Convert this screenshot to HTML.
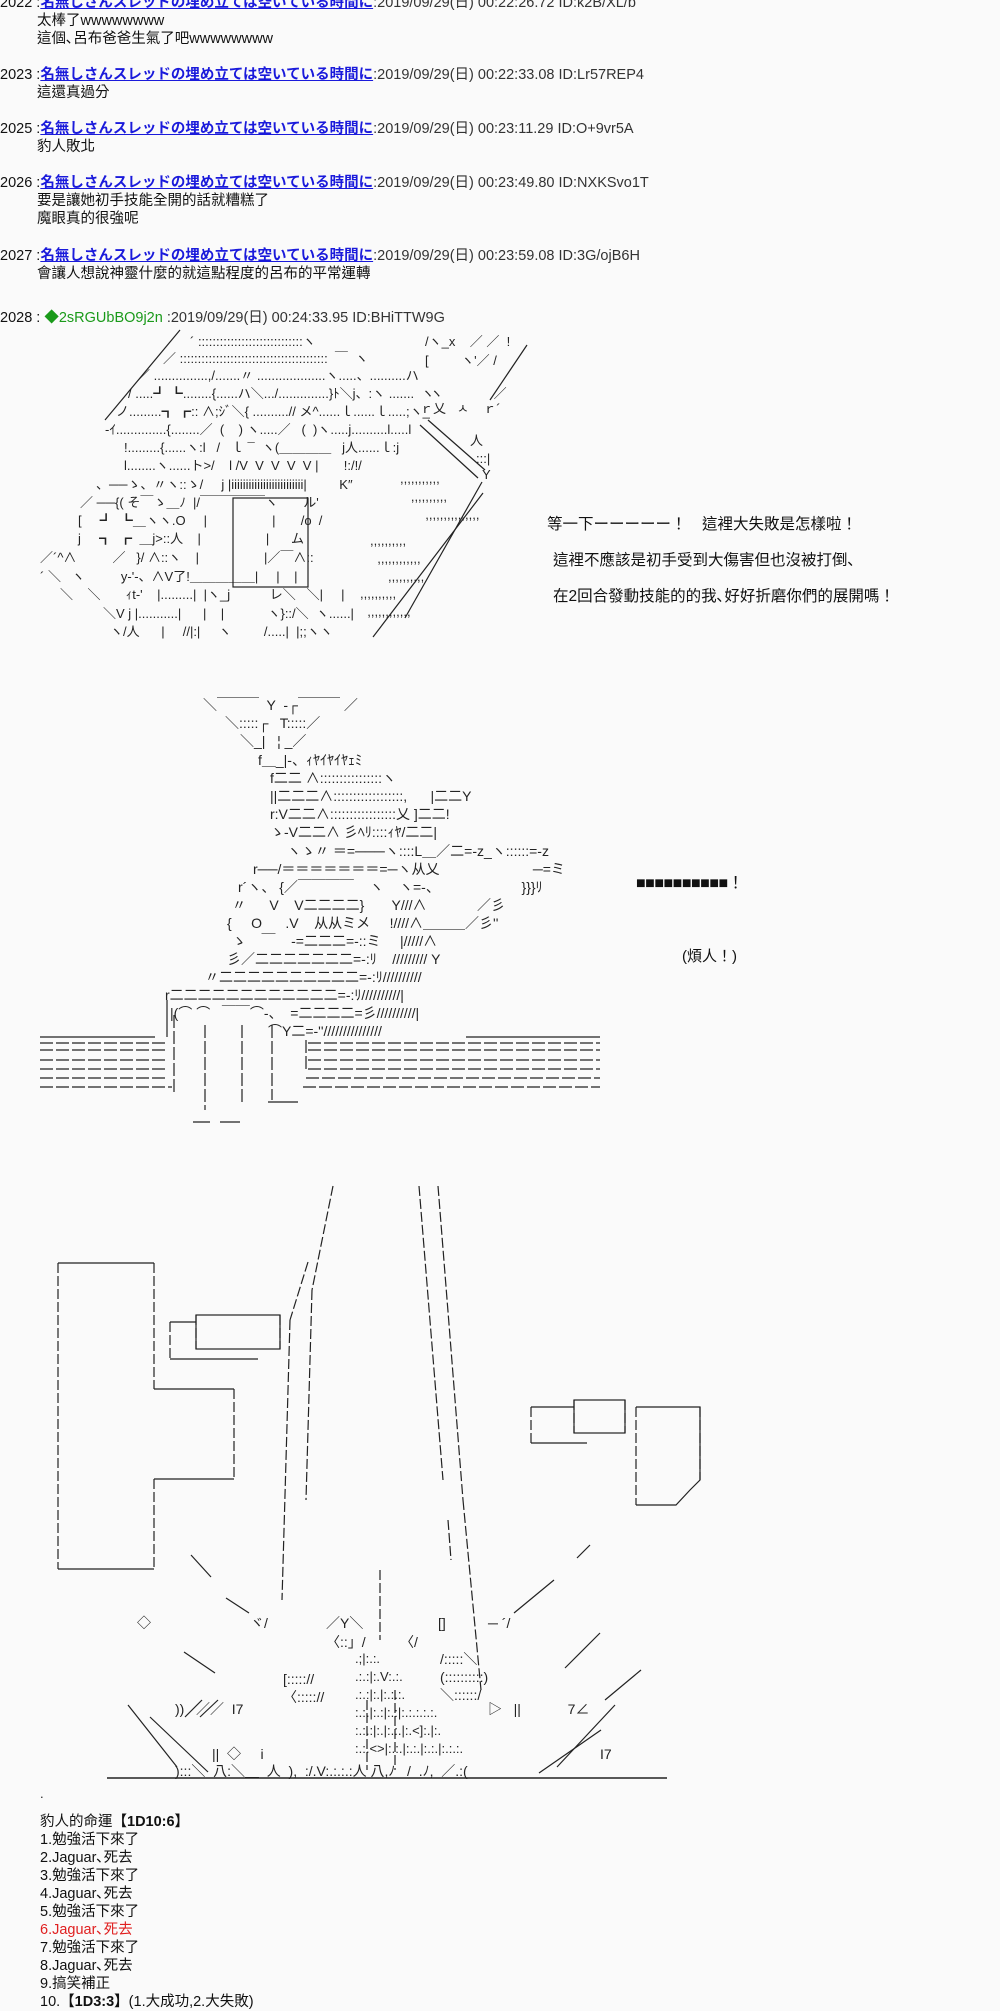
<!DOCTYPE html>
<html><head><meta charset="utf-8">
<style>
body{margin:0;width:1000px;height:2000px;background:#fafafa;position:relative;overflow:hidden;font-family:"Liberation Sans","Noto Sans CJK TC",sans-serif;color:#111}
.t{position:absolute;white-space:pre;font-size:14.5px;line-height:18px}
.h a{color:#1a1adb;text-decoration:underline;font-weight:bold}
.g{color:#333}
.a{position:absolute;white-space:pre;font-family:"Liberation Sans","Noto Sans CJK JP",sans-serif;font-size:13px;line-height:18px;color:#222}
.b{font-size:14px}
svg{position:absolute;left:0;top:0}
</style></head><body>
<div class="t h" style="left:0;top:-6px">2022 :<a>名無しさんスレッドの埋め立ては空いている時間に</a><span class="g">:2019/09/29(日) 00:22:26.72 ID:k2B/XL/b</span></div>
<div class="t" style="left:37px;top:12px">太棒了wwwwwwww
這個､呂布爸爸生氣了吧wwwwwwww</div>
<div class="t h" style="left:0;top:66px">2023 :<a>名無しさんスレッドの埋め立ては空いている時間に</a><span class="g">:2019/09/29(日) 00:22:33.08 ID:Lr57REP4</span></div>
<div class="t" style="left:37px;top:84px">這還真過分</div>
<div class="t h" style="left:0;top:120px">2025 :<a>名無しさんスレッドの埋め立ては空いている時間に</a><span class="g">:2019/09/29(日) 00:23:11.29 ID:O+9vr5A</span></div>
<div class="t" style="left:37px;top:138px">豹人敗北</div>
<div class="t h" style="left:0;top:174px">2026 :<a>名無しさんスレッドの埋め立ては空いている時間に</a><span class="g">:2019/09/29(日) 00:23:49.80 ID:NXKSvo1T</span></div>
<div class="t" style="left:37px;top:192px">要是讓她初手技能全開的話就糟糕了
魔眼真的很強呢</div>
<div class="t h" style="left:0;top:247px">2027 :<a>名無しさんスレッドの埋め立ては空いている時間に</a><span class="g">:2019/09/29(日) 00:23:59.08 ID:3G/ojB6H</span></div>
<div class="t" style="left:37px;top:265px">會讓人想說神靈什麼的就這點程度的呂布的平常運轉</div>
<div class="t" style="left:0;top:309px">2028 : <span style="color:#1a9a1a">◆2sRGUbBO9j2n</span> <span class="g">:2019/09/29(日) 00:24:33.95 ID:BHiTTW9G</span></div>

<!-- art 1 -->
<div class="a" style="left:190px;top:333px">´ :::::::::::::::::::::::::::::ヽ</div>
<div class="a" style="left:163px;top:350px">／ :::::::::::::::::::::::::::::::::::::::::  ￣  ヽ</div>
<div class="a" style="left:137px;top:367px">／ ...............,/.......〃 ...................ヽ.....、..........ハ</div>
<div class="a" style="left:128px;top:385px">/ .....┛ ┗........{......ハ＼.../..............}ﾄ＼j、:ヽ .......  ヽ</div>
<div class="a" style="left:116px;top:403px">ノ.........┓ ┏:: ∧;ｼﾞ＼{ ..........// メ^......ｌ......ｌ.....;ヽ_</div>
<div class="a" style="left:105px;top:421px">‐ｲ..............{........／  (    ) ヽ.....／   (  )ヽ.....j..........l.....l</div>
<div class="a" style="left:124px;top:439px">!.........{......ヽ:l   /   ｌ ¯  ヽ(＿＿＿＿   j人......ｌ:j</div>
<div class="a" style="left:124px;top:457px">l........ヽ......ト>/    l /V  V  V  V  V |       !:/!/</div>
<div class="a" style="left:96px;top:476px">、──ゝ、〃ヽ::ゝ/     j |iiiiiiiiiiiiiiiiiiiiiiiii|         K″</div>
<div class="a" style="left:80px;top:494px">／ ──{( そ￣ゝ＿ﾉ  |/￣￣￣￣￣ヽ       ル'</div>
<div class="a" style="left:78px;top:512px">[     ┛  ┗＿ヽヽ.O     |                  |       /o  /</div>
<div class="a" style="left:78px;top:530px">j     ┓  ┏  ＿j>::人    |                  |      ム</div>
<div class="a" style="left:40px;top:549px">／´^∧          ／   }/ ∧::ヽ    |                  |／￣∧::</div>
<div class="a" style="left:40px;top:568px">´ ＼   ヽ          y‐'‐、∧V了!＿＿＿＿＿|     |    |</div>
<div class="a" style="left:60px;top:586px">＼    ＼       ｨt‐'    |.........|  |ヽ_j           レ＼   ＼|     |</div>
<div class="a" style="left:103px;top:605px">＼V j |...........|      |    |            ヽ}::/＼  ヽ......|</div>
<div class="a" style="left:110px;top:623px">ヽ/人      |     //|:|     ヽ         /.....|  |;;ヽヽ</div>
<div class="a" style="left:425px;top:333px">/ヽ_x    ／ ／  !</div>
<div class="a" style="left:425px;top:352px">[         ヽ'／ /</div>
<div class="a" style="left:430px;top:385px">ヽ              ／</div>
<div class="a" style="left:420px;top:400px">ｒ乂   ㅅ    ｒ´</div>
<div class="a" style="left:470px;top:432px">人</div>
<div class="a" style="left:476px;top:450px">:::|</div>
<div class="a" style="left:482px;top:466px">Y</div>
<div class="a" style="left:400px;top:470px">,,,,,,,,,,,
   ,,,,,,,,,,
       ,,,,,,,,,,,,,,,</div>
<div class="a" style="left:370px;top:532px">,,,,,,,,,,
  ,,,,,,,,,,,,
     ,,,,,,,,,,</div>
<div class="a" style="left:360px;top:585px">,,,,,,,,,,
  ,,,,,,,,,,,,</div>

<div class="t" style="left:547px;top:516px;font-size:15.5px">等一下ーーーーー！　這裡大失敗是怎樣啦！</div>
<div class="t" style="left:553px;top:552px;font-size:15.5px">這裡不應該是初手受到大傷害但也沒被打倒､</div>
<div class="t" style="left:553px;top:588px;font-size:15.5px">在2回合發動技能的的我､好好折磨你們的展開嗎！</div>

<!-- art 2 -->
<div class="a b" style="left:203px;top:696px">＼￣￣￣  Y  ‐┌￣￣￣ ／</div>
<div class="a b" style="left:225px;top:714px">＼:::::┌   T:::::／</div>
<div class="a b" style="left:240px;top:732px">＼_|   ¦ _／</div>
<div class="a b" style="left:258px;top:751px">f＿_|‐、ｨﾔｲﾔｲﾔｪﾐ</div>
<div class="a b" style="left:270px;top:769px">f二二 ∧::::::::::::::::ヽ</div>
<div class="a b" style="left:270px;top:787px">||二二二∧::::::::::::::::::,      |二二Y</div>
<div class="a b" style="left:270px;top:805px">r:V二二∧:::::::::::::::::乂 ]二二!</div>
<div class="a b" style="left:270px;top:823px">ゝ‐V二二∧ 彡ﾍﾘ::::ｨﾔ/二二|</div>
<div class="a b" style="left:287px;top:842px">ヽゝ〃 ＝=───ヽ::::L＿／二=‐z_ヽ::::::=‐z</div>
<div class="a b" style="left:253px;top:860px">r──/＝＝＝＝＝＝＝=─ヽ从乂                        ─=ミ</div>
<div class="a b" style="left:238px;top:878px">r´ヽ、 {／￣￣￣￣    ヽ    ヽ=‐、                     }}}ﾘ</div>
<div class="a b" style="left:232px;top:896px">〃      V    V二二二二}       Y///∧             ／彡</div>
<div class="a b" style="left:227px;top:914px">{     O      .V    从从ミメ     !////∧＿＿＿／彡''</div>
<div class="a b" style="left:232px;top:932px">ゝ    ￣    ‐=二二二=‐::ミ     |/////∧</div>
<div class="a b" style="left:227px;top:950px">彡／二二二二二二二=‐:ﾘ    ///////// Y</div>
<div class="a b" style="left:205px;top:968px">〃二二二二二二二二二二=‐:ﾘ//////////</div>
<div class="a b" style="left:165px;top:986px">r二二二二二二二二二二二二=‐:ﾘ//////////|</div>
<div class="a b" style="left:170px;top:1004px">|(⌒ ⌒   ￣￣⌒‐、  =二二二二=彡//////////|</div>
<div class="a b" style="left:268px;top:1022px">⌒Y二=‐''///////////////</div>
<div class="t" style="left:636px;top:875px;font-size:16px;letter-spacing:-0.5px">■■■■■■■■■■！</div>
<div class="t" style="left:682px;top:948px;font-size:15px">(煩人！)</div>

<!-- art 3 texts -->
<div class="a b" style="left:137px;top:1614px">◇</div>
<div class="a b" style="left:250px;top:1614px">ヾ/</div>
<div class="a b" style="left:326px;top:1614px">／Y＼</div>
<div class="a b" style="left:326px;top:1633px">〈::」/</div>
<div class="a b" style="left:400px;top:1633px">〈/</div>
<div class="a b" style="left:438px;top:1614px">[]</div>
<div class="a b" style="left:488px;top:1614px">─ ´/</div>
<div class="a b" style="left:283px;top:1670px">[::::://
〈::::://</div>
<div class="a b" style="left:440px;top:1650px">/:::::＼
(::::::::::)
＼::::::/</div>
<div class="a" style="left:355px;top:1650px">.;|:.:.
.:.:|:.V:.:.
.:.:|:.|:.:.:.
:.:.|:.:|:.:|:.:.:.:.:.
:.:.:|:.|:.:.|:.<]:.|:.
:.:.<>|:.:.|:.:.|:.:.|:.:.:.</div>
<div class="a b" style="left:175px;top:1700px">))   ／／  I7</div>
<div class="a b" style="left:212px;top:1745px">||  ◇     i</div>
<div class="a b" style="left:175px;top:1762px">):::＼  八:＼＿  人  ),  :/.V:.:.:.:人 八,ﾉ   /  .ﾉ,  ／.:(</div>
<div class="a b" style="left:488px;top:1700px">▷   ||            7∠</div>
<div class="a b" style="left:600px;top:1745px">I7</div>
<div class="a" style="left:40px;top:1785px">.</div>

<div class="t" style="left:40px;top:1813px">豹人的命運<b>【1D10:6】</b>
1.勉強活下來了
2.Jaguar､死去
3.勉強活下來了
4.Jaguar､死去
5.勉強活下來了
<span style="color:#e02020">6.Jaguar､死去</span>
7.勉強活下來了
8.Jaguar､死去
9.搞笑補正
10.<b>【1D3:3】</b>(1.大成功,2.大失敗)</div>

<svg width="1000" height="2000" fill="none" stroke="#222" stroke-width="1.2">
<!-- art1 -->
<rect x="233" y="498" width="75" height="89"/>
<line x1="527" y1="345" x2="490" y2="400"/>
<line x1="482" y1="482" x2="405" y2="618"/>
<line x1="420" y1="425" x2="478" y2="478"/>
<line x1="428" y1="420" x2="485" y2="470"/>
<line x1="483" y1="493" x2="373" y2="637"/>
<line x1="180" y1="330" x2="105" y2="420"/>
<!-- art2 bars -->
<g stroke-dasharray="13 3">
<line x1="40" y1="1043" x2="168" y2="1043"/><line x1="40" y1="1050" x2="168" y2="1050"/>
<line x1="40" y1="1060" x2="168" y2="1060"/><line x1="40" y1="1069" x2="168" y2="1069"/>
<line x1="40" y1="1078" x2="168" y2="1078"/><line x1="40" y1="1087" x2="172" y2="1087"/>
<line x1="308" y1="1043" x2="600" y2="1043"/><line x1="308" y1="1050" x2="600" y2="1050"/>
<line x1="308" y1="1060" x2="600" y2="1060"/><line x1="308" y1="1069" x2="600" y2="1069"/>
<line x1="306" y1="1078" x2="600" y2="1078"/><line x1="303" y1="1087" x2="600" y2="1087"/>
<line x1="174" y1="1015" x2="174" y2="1095"/><line x1="205" y1="1025" x2="205" y2="1110"/>
<line x1="242" y1="1025" x2="242" y2="1105"/><line x1="272" y1="1025" x2="272" y2="1100"/>
<line x1="306" y1="1040" x2="306" y2="1070"/>
</g>
<line x1="40" y1="1037" x2="155" y2="1037"/><line x1="466" y1="1037" x2="600" y2="1037"/>
<line x1="167" y1="1000" x2="167" y2="1037"/>
<line x1="268" y1="1102" x2="298" y2="1102"/><line x1="193" y1="1122" x2="210" y2="1122"/><line x1="220" y1="1122" x2="240" y2="1122"/>
<!-- art3 -->
<g stroke-dasharray="10 3">
<polyline points="58,1263 58,1569"/><polyline points="154,1263 154,1389"/><polyline points="234,1389 234,1479"/><polyline points="154,1479 154,1569"/>
<line x1="170" y1="1322" x2="170" y2="1359"/><line x1="196" y1="1315" x2="196" y2="1349"/><line x1="280" y1="1315" x2="280" y2="1349"/>
<line x1="531" y1="1407" x2="531" y2="1443"/><line x1="574" y1="1400" x2="574" y2="1433"/><line x1="625" y1="1400" x2="625" y2="1433"/>
<line x1="636" y1="1407" x2="636" y2="1505"/><line x1="700" y1="1407" x2="700" y2="1480"/>
<line x1="333" y1="1186" x2="312" y2="1290"/><line x1="312" y1="1290" x2="306" y2="1500"/>
<line x1="308" y1="1262" x2="290" y2="1320"/><line x1="290" y1="1320" x2="282" y2="1600"/>
<line x1="419" y1="1186" x2="443" y2="1480"/><line x1="438" y1="1186" x2="463" y2="1500"/><line x1="463" y1="1500" x2="481" y2="1690"/>
<line x1="448" y1="1520" x2="451" y2="1560"/>
<line x1="380" y1="1570" x2="380" y2="1640"/><line x1="367" y1="1700" x2="367" y2="1770"/><line x1="395" y1="1690" x2="395" y2="1770"/>
</g>
<line x1="58" y1="1263" x2="154" y2="1263"/><line x1="154" y1="1389" x2="234" y2="1389"/><line x1="154" y1="1479" x2="234" y2="1479"/><line x1="58" y1="1569" x2="154" y2="1569"/>
<line x1="170" y1="1322" x2="196" y2="1322"/><line x1="170" y1="1359" x2="258" y2="1359"/>
<rect x="196" y="1315" width="84" height="34"/>
<line x1="531" y1="1407" x2="574" y2="1407"/><line x1="531" y1="1443" x2="587" y2="1443"/>
<rect x="574" y="1400" width="51" height="33"/>
<polyline points="636,1407 700,1407 700,1480 690,1490 676,1505 636,1505"/>
<line x1="191" y1="1555" x2="211" y2="1577"/><line x1="226" y1="1598" x2="249" y2="1613"/>
<line x1="184" y1="1652" x2="215" y2="1673"/><line x1="128" y1="1705" x2="177" y2="1767"/><line x1="150" y1="1717" x2="208" y2="1772"/>
<line x1="577" y1="1558" x2="590" y2="1545"/><line x1="554" y1="1580" x2="514" y2="1613"/>
<line x1="600" y1="1633" x2="565" y2="1668"/><line x1="641" y1="1670" x2="605" y2="1700"/>
<line x1="615" y1="1705" x2="557" y2="1767"/><line x1="601" y1="1730" x2="539" y2="1773"/>
<line x1="202" y1="1700" x2="185" y2="1717"/><line x1="218" y1="1700" x2="200" y2="1717"/>
<line x1="107" y1="1778" x2="667" y2="1778" stroke-width="1.5"/>
</svg>
</body></html>
